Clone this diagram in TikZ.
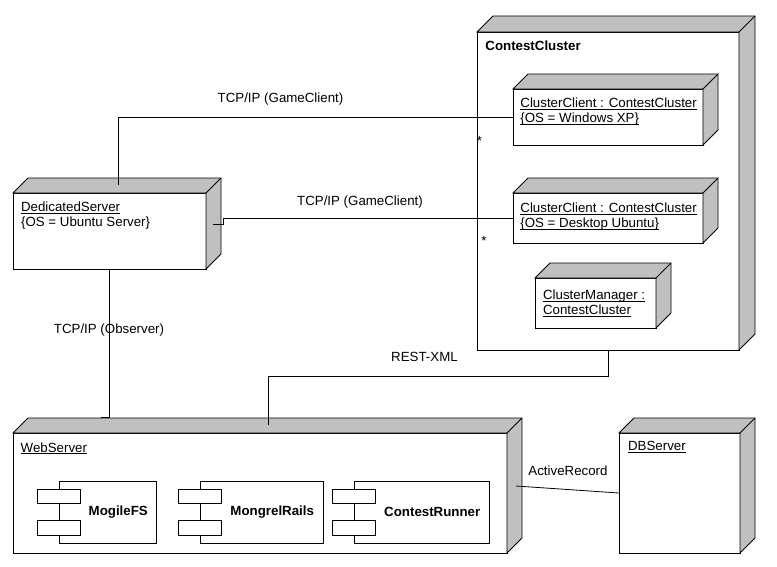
\documentclass[tikz,border=0pt]{standalone}
\usepackage{fontspec}
\setmainfont{Liberation Sans}
\usetikzlibrary{arrows,shapes}
\definecolor{boxgray}{RGB}{192,192,192}
\newcommand{\ulname}[1]{\underline{\smash{#1}}}
\newcommand{\boxsides}[2][15]{%
    \filldraw[fill=boxgray] (#2.north west) -- ++(#1,#1) -- ([shift={(#1,#1)}]#2.north east) -- ([shift={(#1,#1)}]#2.south east) -- (#2.south east) -- (#2.north east) -- cycle;
    \draw (#2.north east) -- ++(#1,#1);}

\begin{document}
\begin{tikzpicture}[x=1pt, y=1pt, line width=0.8pt, font=\fontsize{13.3}{15}\selectfont,
    nodebox/.style={rectangle, draw, fill=white, anchor=north west, inner sep=0pt, outer sep=0pt},
    boxtext/.style={anchor=base west, align=left, inner sep=0pt},
    compbox/.style={rectangle, draw, fill=white, inner sep=0pt, outer sep=0pt, minimum height=62pt},
    linklabel/.style={anchor=base, inner sep=0pt}]

    \useasboundingbox (0,0) rectangle (777,-566);

    % cluster and what runs in it
    \node[nodebox, minimum width=262pt, minimum height=318pt](cluster) at (477,-32) {};
    \boxsides[16]{cluster}
    \node[boxtext](cluster-t) at (485,-50) {\textbf{ContestCluster}};

    \node[nodebox, minimum width=190pt, minimum height=56pt](client1) at (513,-89) {};
    \boxsides{client1}
    \node[boxtext](client1-t) at (520,-122.5) {\ulname{ClusterClient : ContestCluster}\\\ulname{\{OS = Windows XP\}}};

    \node[nodebox, minimum width=190pt, minimum height=50pt](client2) at (513,-193) {};
    \boxsides{client2}
    \node[boxtext](client2-t) at (520,-227.3) {\ulname{ClusterClient : ContestCluster}\\\ulname{\{OS = Desktop Ubuntu\}}};

    \node[nodebox, minimum width=121pt, minimum height=50pt](manager) at (535,-278) {};
    \boxsides{manager}
    \node[boxtext](manager-t) at (542.7,-314.3) {\ulname{ClusterManager :}\\\ulname{ContestCluster}};

    % servers
    \node[nodebox, minimum width=193pt, minimum height=76pt](dedicated) at (13,-193) {};
    \boxsides{dedicated}
    \node[boxtext](dedicated-t) at (20.7,-226.7) {\ulname{DedicatedServer}\\\{OS = Ubuntu Server\}};

    \node[nodebox, minimum width=494pt, minimum height=120pt](webserver) at (13,-433) {};
    \boxsides{webserver}
    \node[boxtext](webserver-t) at (20.3,-452) {\ulname{WebServer}};

    \node[nodebox, minimum width=121pt, minimum height=120pt](dbserver) at (619,-433) {};
    \boxsides{dbserver}
    \node[boxtext](dbserver-t) at (627.7,-450.7) {\ulname{DBServer}};

    % components on the web server
    \node[compbox, minimum width=97pt](mogile) at (107.5,-512) {};
    \node[compbox, minimum width=123pt](mongrel) at (261.5,-512) {};
    \node[compbox, minimum width=135pt](runner) at (421.5,-512) {};
    \foreach \c in {mogile,mongrel,runner}{
        \draw[fill=white] ([shift={(-21.5,8.5)}]\c.west) rectangle ++(43,14.5);
        \draw[fill=white] ([shift={(-21.5,-23)}]\c.west) rectangle ++(43,14.5);
    }
    \node[inner sep=0pt](mogile-t) at ([xshift=10.75pt]mogile.center) {\textbf{MogileFS}};
    \node[inner sep=0pt](mongrel-t) at ([xshift=10.75pt]mongrel.center) {\textbf{MongrelRails}};
    \node[inner sep=0pt](runner-t) at ([xshift=10.75pt]runner.center) {\textbf{ContestRunner}};

    \coordinate (obsend) at ([shift={(88,16)}]webserver.north west);
    \coordinate (restend) at ([shift={(255,8)}]webserver.north west);

            \draw[-] ([shift={(105,8)}]dedicated.north west) |- (client1.west);
            \draw[-] ([shift={(7,7)}]dedicated.east) -- ++(10,0) |- (client2.west);
            \draw[-] (dedicated.south) |- (obsend);
            \draw[-] (cluster.south) -- ++(0,-26) -| (restend);
            \draw[-] ([shift={(9,7)}]webserver.east) -- (dbserver.west);

    \node[linklabel](game1-l) at (280.5,-102.7) {TCP/IP (GameClient)};
    \node[linklabel](game2-l) at (360,-205) {TCP/IP (GameClient)};
    \node[linklabel](obs-l) at (109,-333.3) {TCP/IP (Observer)};
    \node[linklabel](rest-l) at (424.5,-361.3) {REST-XML};
    \node[linklabel](ar-l) at (568,-475) {ActiveRecord};
    \node[linklabel](star1) at (479.5,-145) {*};
    \node[linklabel](star2) at (484,-245.5) {*};

\end{tikzpicture}
\end{document}
